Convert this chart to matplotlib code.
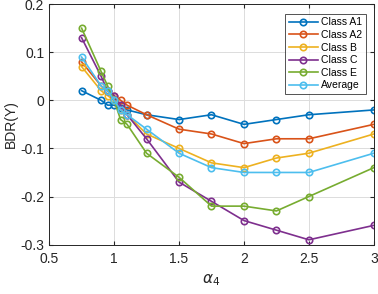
import numpy as np
from matplotlib import pyplot as plt

plt.rcParams['font.family'] = ['Liberation Sans', 'DejaVu Sans']

# alpha_4 values
x = [0.75, 0.9, 0.95, 1.0, 1.05, 1.1, 1.25, 1.5, 1.75, 2.0, 2.25, 2.5, 3.0]

class_a1 = [0.02, 0.0, -0.01, -0.01, -0.015, -0.02, -0.03, -0.04, -0.03, -0.05, -0.04, -0.03, -0.02]
class_a2 = [0.08, 0.03, 0.02, 0.01, 0.0, -0.01, -0.03, -0.06, -0.07, -0.09, -0.08, -0.08, -0.05]
class_b = [0.07, 0.02, 0.01, 0.0, -0.02, -0.03, -0.07, -0.10, -0.13, -0.14, -0.12, -0.11, -0.07]
class_c = [0.13, 0.05, 0.02, 0.01, -0.01, -0.03, -0.08, -0.17, -0.21, -0.25, -0.27, -0.29, -0.26]
class_e = [0.15, 0.06, 0.03, 0.0, -0.04, -0.05, -0.11, -0.16, -0.22, -0.22, -0.23, -0.20, -0.14]
average = [0.09, 0.03, 0.02, 0.0, -0.02, -0.03, -0.06, -0.11, -0.14, -0.15, -0.15, -0.15, -0.11]

series = [
    ("Class A1", class_a1, "#0072BD"),
    ("Class A2", class_a2, "#D95319"),
    ("Class B", class_b, "#EDB120"),
    ("Class C", class_c, "#7E2F8E"),
    ("Class E", class_e, "#77AC30"),
    ("Average", average, "#4DBEEE"),
]

fig = plt.figure(figsize=(3.78, 2.94), dpi=100)
ax = fig.add_axes([0.130, 0.168, 0.859, 0.818])

for name, vals, col in series:
    ax.plot(x, vals, "-o", color=col, lw=1.2, ms=4.6, mfc="none", mew=1.2, label=name)

ax.set_xlim(0.5, 3)
ax.set_ylim(-0.3, 0.2)
ax.set_xticks([0.5, 1, 1.5, 2, 2.5, 3])
ax.set_xticklabels(["0.5", "1", "1.5", "2", "2.5", "3"])
ax.set_yticks([-0.3, -0.2, -0.1, 0, 0.1, 0.2])
ax.set_yticklabels(["-0.3", "-0.2", "-0.1", "0", "0.1", "0.2"])
ax.grid(True, color="#dcdcdc", lw=0.7)
ax.set_axisbelow(True)
ax.tick_params(direction="in", length=3, labelsize=10, colors="#262626", top=True, right=True)
ax.tick_params(axis="x", pad=5)
for sp in ax.spines.values():
    sp.set_color("#262626")
    sp.set_linewidth(0.7)

ax.set_xlabel(r"$\alpha_4$", fontsize=11, color="#262626", labelpad=5)
ax.set_ylabel("BDR(Y)", fontsize=10, color="#262626", labelpad=2)

leg = ax.legend(loc="upper right", fontsize=7.5, frameon=True, fancybox=False,
                edgecolor="#262626", handlelength=2.8, borderpad=0.35,
                labelspacing=0.25, handletextpad=0.3, borderaxespad=0.0,
                bbox_to_anchor=(0.975, 0.96))
leg.get_frame().set_linewidth(0.7)

fig.savefig("out.png", dpi=100)
